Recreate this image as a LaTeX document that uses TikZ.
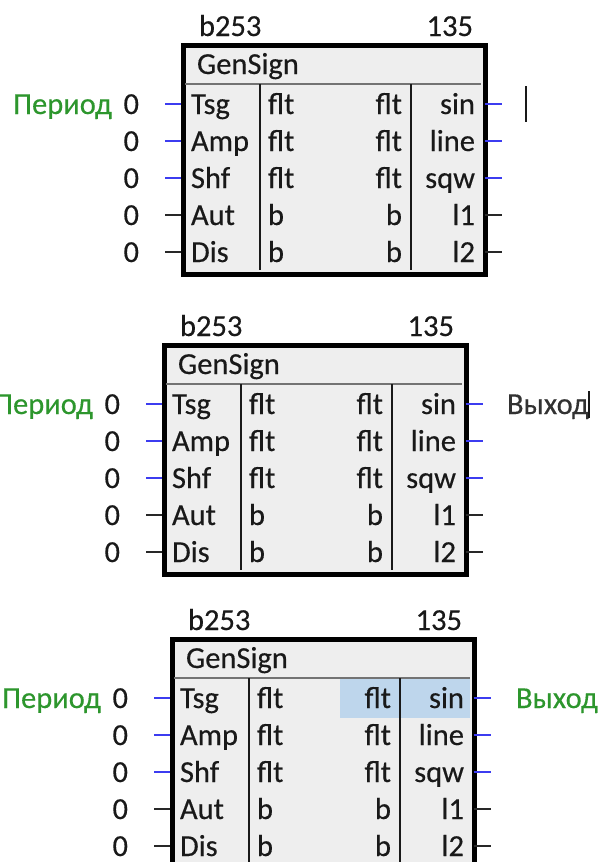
\documentclass[tikz,border=0pt]{standalone}
\usepackage{fontspec}
\setmainfont{Carlito}[FakeBold=0.35]
\definecolor{pinblue}{RGB}{60,60,240}
\definecolor{pindark}{RGB}{40,40,40}
\definecolor{lblgreen}{RGB}{45,150,45}
\definecolor{boxfill}{RGB}{238,238,238}
\definecolor{hdrline}{RGB}{115,115,115}
\definecolor{hilite}{RGB}{190,214,236}
\definecolor{txt}{RGB}{25,25,25}
\tikzset{
  txtstyle/.style={inner sep=0pt, outer sep=0pt, text=txt, font=\fontsize{30.5pt}{36pt}\selectfont},
  blockbox/.style={draw=black, line width=3.4pt, fill=boxfill, minimum width=300pt, minimum height=227pt, inner sep=0pt, anchor=north west},
  hdr/.style={draw=hdrline, line width=2.6pt},
  divider/.style={draw=txt, line width=2pt},
  pinblue/.style={draw=pinblue, line width=2pt},
  pinblack/.style={draw=pindark, line width=2pt},
  cursorbar/.style={draw=txt, line width=2.6pt},
}
% #1 prefix, #2 x, #3 y, #4 extra drawing under the grid
\newcommand\gsblock[4]{%
\begin{scope}[shift={(#2,#3)}]
  \node[blockbox] (#1box) at (0,0) {};
  #4
  \coordinate (#1h1) at (1.6,39); \coordinate (#1h2) at (298.4,39);
  \draw[hdr] (#1h1) -- (#1h2);
  \coordinate (#1d1a) at (77,39); \coordinate (#1d1b) at (77,225.4);
  \coordinate (#1d2a) at (228,39); \coordinate (#1d2b) at (228,225.4);
  \draw[divider] (#1d1a) -- (#1d1b);
  \draw[divider] (#1d2a) -- (#1d2b);
  \draw[line width=3.4pt] (#1box.north west) rectangle (#1box.south east);
  \node[txtstyle, anchor=base west] (#1title) at (14,29) {GenSign};
  \node[txtstyle, anchor=base west] (#1id) at (16,-9) {b253};
  \node[txtstyle, anchor=base east] (#1num) at (290,-9) {135};
  \foreach \k/\nm/\tl/\tr/\out/\pc in {0/Tsg/flt/flt/sin/pinblue,1/Amp/flt/flt/line/pinblue,2/Shf/flt/flt/sqw/pinblue,3/Aut/b/b/l1/pinblack,4/Dis/b/b/l2/pinblack}{
    \pgfmathsetmacro\ry{59+37*\k}
    \pgfmathsetmacro\rb{\ry+10}
    \node[txtstyle, anchor=base west] (#1in\k) at (8,\rb) {\nm};
    \node[txtstyle, anchor=base west] (#1tl\k) at (85,\rb) {\tl};
    \node[txtstyle, anchor=base east] (#1tr\k) at (219,\rb) {\tr};
    \node[txtstyle, anchor=base east] (#1out\k) at (292,\rb) {\out};
    \node[txtstyle, anchor=base east] (#1zero\k) at (-44,\rb) {0};
    \coordinate (#1pa\k) at (-18,\ry); \coordinate (#1pb\k) at (-1.7,\ry);
    \coordinate (#1qa\k) at (301.7,\ry); \coordinate (#1qb\k) at (319,\ry);
    \draw[\pc] (#1pa\k) -- (#1pb\k);
    \draw[\pc] (#1qa\k) -- (#1qb\k);
  }
  \node[txtstyle, text=lblgreen, anchor=base east] (#1per) at (-71,69) {Период};
\end{scope}}
\begin{document}
\begin{tikzpicture}[x=1pt,y=-1pt]
\useasboundingbox (0,0) rectangle (600,862);
\clip (0,0) rectangle (600,862);
\fill[white] (0,0) rectangle (600,862);
% block 1
\gsblock{a}{183}{45}{}
\coordinate (acur1) at (526,86); \coordinate (acur2) at (526,122);
\draw[cursorbar] (acur1) -- (acur2);
% block 2
\gsblock{b}{164}{345}{}
\node[txtstyle, anchor=base west, text={rgb,255:red,50;green,50;blue,50}] (bout) at (507,414) {Выход};
\coordinate (bcur1) at (589,391); \coordinate (bcur2) at (589,418);
\draw[cursorbar] (bcur1) -- (bcur2);
% block 3
\gsblock{c}{172}{639}{\fill[hilite] (168,40.2) rectangle (298.3,79);}
\node[txtstyle, anchor=base west, text=lblgreen] (cout) at (516,708) {Выход};
\end{tikzpicture}
\end{document}
